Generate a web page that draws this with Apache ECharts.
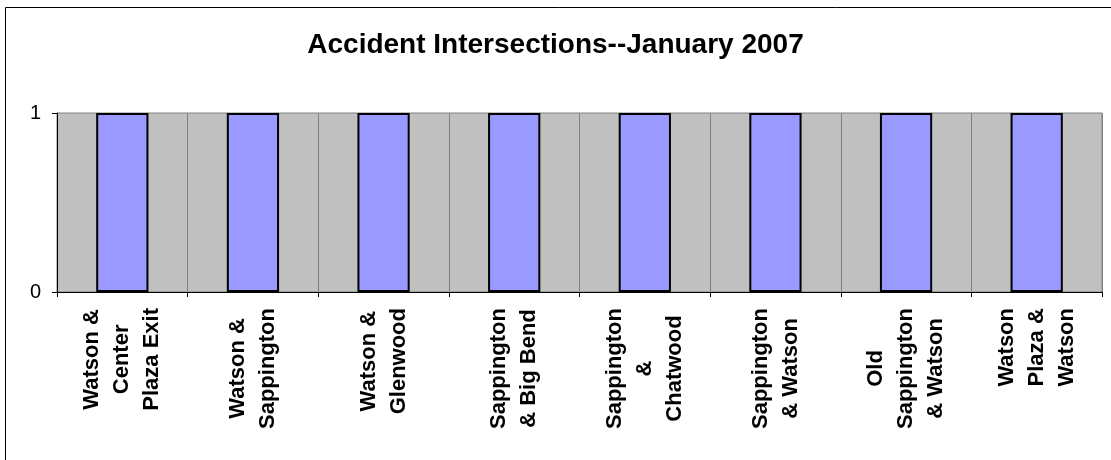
<!DOCTYPE html>
<html>
<head>
<meta charset="utf-8">
<script src="https://cdn.jsdelivr.net/npm/echarts@6/dist/echarts.min.js"></script>
<style>
html,body{margin:0;padding:0;background:#fff;}
#chart{width:1111px;height:460px;}
</style>
</head>
<body>
<div id="chart"></div>
<script>
const titleText = 'Accident Intersections--January 2007';
const categories = [
  'Watson &\nCenter\nPlaza Exit',
  'Watson &\nSappington',
  'Watson &\nGlenwood',
  'Sappington\n& Big Bend',
  'Sappington\n&\nChatwood',
  'Sappington\n& Watson',
  'Old\nSappington\n& Watson',
  'Watson\nPlaza &\nWatson'
];
const accidents = [1, 1, 1, 1, 1, 1, 1, 1];
const yTicks = [0, 1];

const FONT = '"Liberation Sans", Arial, Helvetica, sans-serif';
const chart = echarts.init(document.getElementById('chart'), null, {renderer: 'canvas'});
chart.setOption({
  animation: false,
  backgroundColor: '#ffffff',
  title: {
    text: titleText,
    left: 'center',
    top: 26,
    textStyle: {fontFamily: FONT, fontSize: 28, fontWeight: 'bold', color: '#000'}
  },
  graphic: [{
    type: 'rect',
    silent: true,
    z: -10,
    shape: {x: 5.5, y: 7.5, width: 1300, height: 800},
    style: {fill: 'none', stroke: '#000', lineWidth: 1}
  }],
  grid: {
    left: 57, right: 9, top: 113, bottom: 168,
    show: true,
    backgroundColor: '#C0C0C0',
    borderColor: '#808080',
    borderWidth: 1
  },
  xAxis: {
    type: 'category',
    data: categories,
    axisLine: {show: true, lineStyle: {color: '#000', width: 1}},
    axisTick: {show: true, interval: 0, length: 5, lineStyle: {color: '#000'}},
    splitLine: {show: true, interval: 0, lineStyle: {color: '#808080', width: 1}},
    axisLabel: {
      interval: 0,
      rotate: 90,
      margin: 16,
      formatter: function (v) {
        return v.split('\n').map(function (s) { return '{c|' + s + '}'; }).join('\n');
      },
      rich: {
        c: {align: 'center', fontFamily: FONT, fontSize: 22, fontWeight: 'bold', lineHeight: 30, color: '#000'}
      }
    }
  },
  yAxis: {
    type: 'value',
    min: yTicks[0],
    max: yTicks[yTicks.length - 1],
    interval: 1,
    axisLine: {show: true, lineStyle: {color: '#000', width: 1}},
    axisTick: {show: true, length: 5, lineStyle: {color: '#000'}},
    splitLine: {show: false},
    axisLabel: {margin: 16, fontFamily: FONT, fontSize: 20, color: '#000'}
  },
  series: [{
    type: 'bar',
    data: accidents,
    barCategoryGap: '60%',
    itemStyle: {color: '#9999FF', borderColor: '#000', borderWidth: 2}
  }]
});
</script>
</body>
</html>
